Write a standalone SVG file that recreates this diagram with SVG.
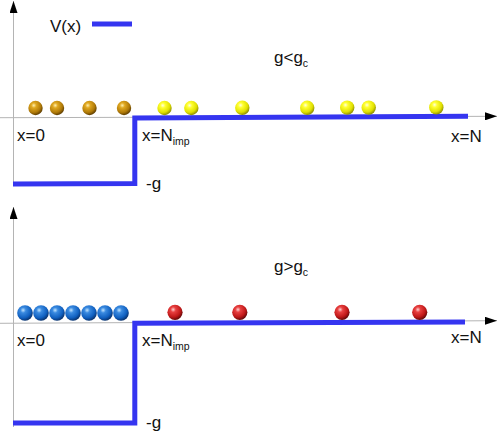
<svg xmlns="http://www.w3.org/2000/svg" width="498" height="433" viewBox="0 0 498 433">
<defs>
<radialGradient id="gBrown" cx="0.38" cy="0.32" r="0.7">
<stop offset="0" stop-color="#fff0b0"/>
<stop offset="0.25" stop-color="#e0a820"/>
<stop offset="0.7" stop-color="#b07a08"/>
<stop offset="1" stop-color="#5a3a00"/>
</radialGradient>
<radialGradient id="gYellow" cx="0.38" cy="0.32" r="0.7">
<stop offset="0" stop-color="#ffffe0"/>
<stop offset="0.25" stop-color="#ffff30"/>
<stop offset="0.7" stop-color="#e0e000"/>
<stop offset="1" stop-color="#8a8a00"/>
</radialGradient>
<radialGradient id="gBlue" cx="0.38" cy="0.32" r="0.7">
<stop offset="0" stop-color="#c0e4ff"/>
<stop offset="0.25" stop-color="#3a8ae0"/>
<stop offset="0.7" stop-color="#1060c0"/>
<stop offset="1" stop-color="#08306a"/>
</radialGradient>
<radialGradient id="gRed" cx="0.38" cy="0.32" r="0.7">
<stop offset="0" stop-color="#ffd0d0"/>
<stop offset="0.25" stop-color="#e84040"/>
<stop offset="0.7" stop-color="#c01818"/>
<stop offset="1" stop-color="#600808"/>
</radialGradient>
<marker id="arr" viewBox="0 0 12 8" refX="12" refY="4" markerWidth="12" markerHeight="8" markerUnits="userSpaceOnUse" orient="auto">
<path d="M0,0 L12,4 L0,8 Z" fill="#000"/>
</marker>
</defs>
<style>
.axis{stroke:#b4b4b4;stroke-width:1;fill:none}
.pot{stroke:#3535f0;stroke-width:5;fill:none}
text{font-family:"Liberation Sans",Arial,sans-serif;font-size:17px;fill:#111}
.sub{font-size:10.5px}
.b{fill:url(#gBrown)}
.y{fill:url(#gYellow)}
.bl{fill:url(#gBlue)}
.r{fill:url(#gRed)}
</style>

<g id="connectors">
<line class="axis" x1="13.5" y1="186" x2="13.5" y2="1" marker-end="url(#arr)"/>
<line class="axis" x1="0" y1="117.7" x2="497" y2="116.3" marker-end="url(#arr)"/>
<line class="axis" x1="13.5" y1="427" x2="13.5" y2="207" marker-end="url(#arr)"/>
<line class="axis" x1="0" y1="323.3" x2="497" y2="320.7" marker-end="url(#arr)"/>
<polyline class="pot" points="13,184 134.8,183.5 134.8,118 468,116.2"/>
<polyline class="pot" points="13,423 134.8,423 134.8,323.3 465,322"/>
<line class="pot" x1="92" y1="24" x2="132" y2="24"/>
</g>

<g id="legend">
<text x="50" y="31.5">V(x)</text>
</g>

<g id="top-panel">
<g id="top-balls">
<circle class="b" cx="35.5" cy="108" r="7.2"/>
<circle class="b" cx="57" cy="108" r="7.2"/>
<circle class="b" cx="89.5" cy="108" r="7.2"/>
<circle class="b" cx="124" cy="108" r="7.2"/>
<circle class="y" cx="164.5" cy="108" r="7.2"/>
<circle class="y" cx="191.3" cy="108" r="7.2"/>
<circle class="y" cx="242.3" cy="107.8" r="7.2"/>
<circle class="y" cx="307.2" cy="107.8" r="7.2"/>
<circle class="y" cx="347.2" cy="107.6" r="7.2"/>
<circle class="y" cx="368.7" cy="107.6" r="7.2"/>
<circle class="y" cx="436.3" cy="107.4" r="7.2"/>
</g>
<g id="top-labels">
<text x="17" y="141">x=0</text>
<text x="142" y="141">x=N<tspan class="sub" dy="4">imp</tspan></text>
<text x="146" y="189">-g</text>
<text x="274" y="63">g&lt;g<tspan class="sub" dy="4">c</tspan></text>
<text x="451" y="141.5">x=N</text>
</g>
</g>

<g id="bottom-panel">
<g id="bottom-balls">
<circle class="bl" cx="25" cy="313" r="7.8"/>
<circle class="bl" cx="41" cy="313" r="7.8"/>
<circle class="bl" cx="57" cy="313" r="7.8"/>
<circle class="bl" cx="73" cy="313" r="7.8"/>
<circle class="bl" cx="89" cy="313" r="7.8"/>
<circle class="bl" cx="105" cy="313" r="7.8"/>
<circle class="bl" cx="121" cy="313" r="7.8"/>
<circle class="r" cx="175" cy="312.3" r="7.6"/>
<circle class="r" cx="239.8" cy="312.3" r="7.6"/>
<circle class="r" cx="342" cy="312.3" r="7.6"/>
<circle class="r" cx="419.7" cy="312.3" r="7.6"/>
</g>
<g id="bottom-labels">
<text x="17" y="346">x=0</text>
<text x="142" y="346">x=N<tspan class="sub" dy="4">imp</tspan></text>
<text x="146" y="428">-g</text>
<text x="274" y="272">g&gt;g<tspan class="sub" dy="4">c</tspan></text>
<text x="451" y="343">x=N</text>
</g>
</g>
</svg>
